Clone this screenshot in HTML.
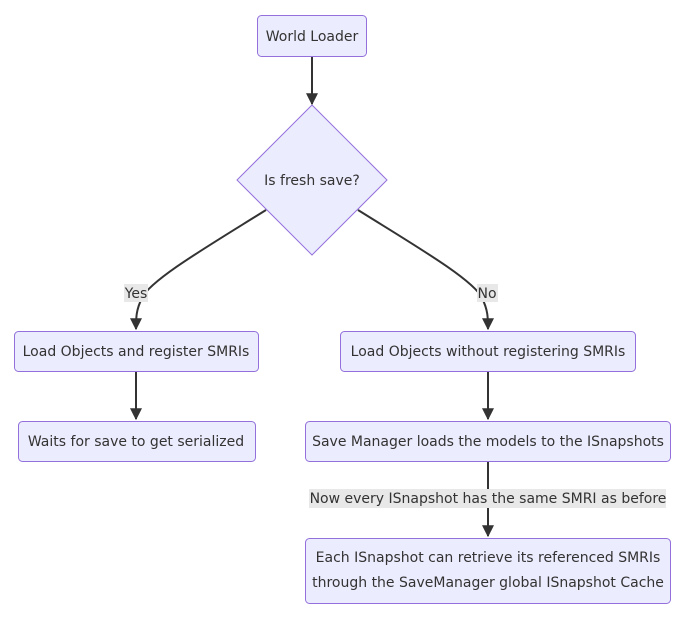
<!DOCTYPE html>
<html><head><style>
body{margin:0;background:#fff;width:687px;height:615px;overflow:hidden}
svg text{font-family:"DejaVu Sans",sans-serif;font-size:14px;fill:#333}
</style></head><body>
<svg width="687" height="615" viewBox="0 0 687 615">
<defs><marker id="a" viewBox="0 0 10 10" refX="9" refY="5" markerWidth="6" markerHeight="6" orient="auto"><path d="M0,0L10,5L0,10z" fill="#333"/></marker></defs>
<g fill="#ECECFF" stroke="#9370DB" stroke-width="1">
<rect x="257.5" y="15.5" width="109" height="41" rx="4"/>
<polygon points="312,105 387,180 312,255 237,180"/>
<rect x="14.5" y="331.5" width="244" height="40" rx="4"/>
<rect x="340.5" y="331.5" width="295" height="40" rx="4"/>
<rect x="18.5" y="421.5" width="237" height="40" rx="4"/>
<rect x="305.5" y="421.5" width="365" height="40" rx="4"/>
<rect x="305.5" y="538.5" width="365" height="65" rx="4"/>
</g>
<g stroke="#333" stroke-width="2" fill="none" marker-end="url(#a)">
<path d="M312,57V104"/>
<path d="M266,210C210,245 150,280 142,298C136,310 136,318 136,329"/>
<path d="M358,210C414,245 474,280 482,298C488,310 488,318 488,329"/>
<path d="M136,372V419"/>
<path d="M488,372V419"/>
<path d="M488,462V536"/>
</g>
<rect x="124" y="284" width="24" height="18" fill="#e8e8e8"/>
<rect x="477" y="284" width="21" height="18" fill="#e8e8e8"/>
<rect x="309" y="489" width="357" height="19" fill="#e8e8e8"/>
<g text-anchor="middle">
<text x="312" y="41">World Loader</text>
<text x="312" y="185">Is fresh save?</text>
<text x="136" y="298">Yes</text>
<text x="487" y="298">No</text>
<text x="136" y="356">Load Objects and register SMRIs</text>
<text x="488" y="356">Load Objects without registering SMRIs</text>
<text x="136" y="446">Waits for save to get serialized</text>
<text x="488" y="446">Save Manager loads the models to the ISnapshots</text>
<text x="488" y="503">Now every ISnapshot has the same SMRI as before</text>
<text x="488" y="562">Each ISnapshot can retrieve its referenced SMRIs</text>
<text x="488" y="587">through the SaveManager global ISnapshot Cache</text>
</g>
</svg>
</body></html>
